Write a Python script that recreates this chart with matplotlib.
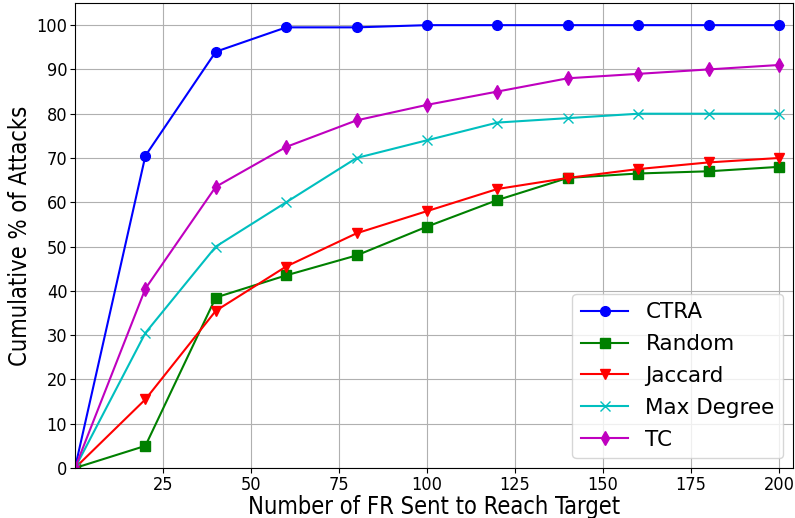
import numpy as np
import matplotlib
matplotlib.use('Agg')
from matplotlib import pyplot as plt

plt.rcParams['font.family'] = ['DejaVu Sans']
plt.rcParams['font.stretch'] = 'condensed'

fr_sent = [0, 20, 40, 60, 80, 100, 120, 140, 160, 180, 200]
ctra = [0, 70.5, 94, 99.5, 99.5, 100, 100, 100, 100, 100, 100]
random_sel = [0, 5, 38.5, 43.5, 48, 54.5, 60.5, 65.5, 66.5, 67, 68]
jaccard = [0, 15.5, 35.5, 45.5, 53, 58, 63, 65.5, 67.5, 69, 70]
max_degree = [0, 30.5, 50, 60, 70, 74, 78, 79, 80, 80, 80]
tc = [0, 40.5, 63.5, 72.5, 78.5, 82, 85, 88, 89, 90, 91]

fig = plt.figure(figsize=(7.95, 5.18), dpi=100)
ax = fig.add_axes([75 / 795, 50 / 518, 718 / 795, 465 / 518])

ax.plot(fr_sent, ctra, 'b-o', label='CTRA', markersize=7, linewidth=1.5)
ax.plot(fr_sent, random_sel, 'g-s', label='Random', markersize=7, linewidth=1.5)
ax.plot(fr_sent, jaccard, 'r-v', label='Jaccard', markersize=7, linewidth=1.5)
ax.plot(fr_sent, max_degree, 'c-x', label='Max Degree', markersize=7, linewidth=1.5)
ax.plot(fr_sent, tc, 'm-d', label='TC', markersize=7, linewidth=1.5)

ax.set_xlim(0, 204)
ax.set_ylim(0, 105)
ax.set_xticks([25, 50, 75, 100, 125, 150, 175, 200])
ax.set_yticks(np.arange(0, 101, 10))
ax.tick_params(labelsize=13, pad=2)
ax.grid(True, color='#b0b0b0', linewidth=0.8)

ax.set_xlabel('Number of FR Sent to Reach Target', fontsize=17, labelpad=1)
ax.set_ylabel('Cumulative % of Attacks', fontsize=17, labelpad=3)
ax.legend(loc='lower right', prop={'size': 15.5, 'stretch': 'normal'},
          labelspacing=0.55, handlelength=2.2, borderaxespad=0.45)

plt.savefig('out.png', dpi=100)
plt.close()
